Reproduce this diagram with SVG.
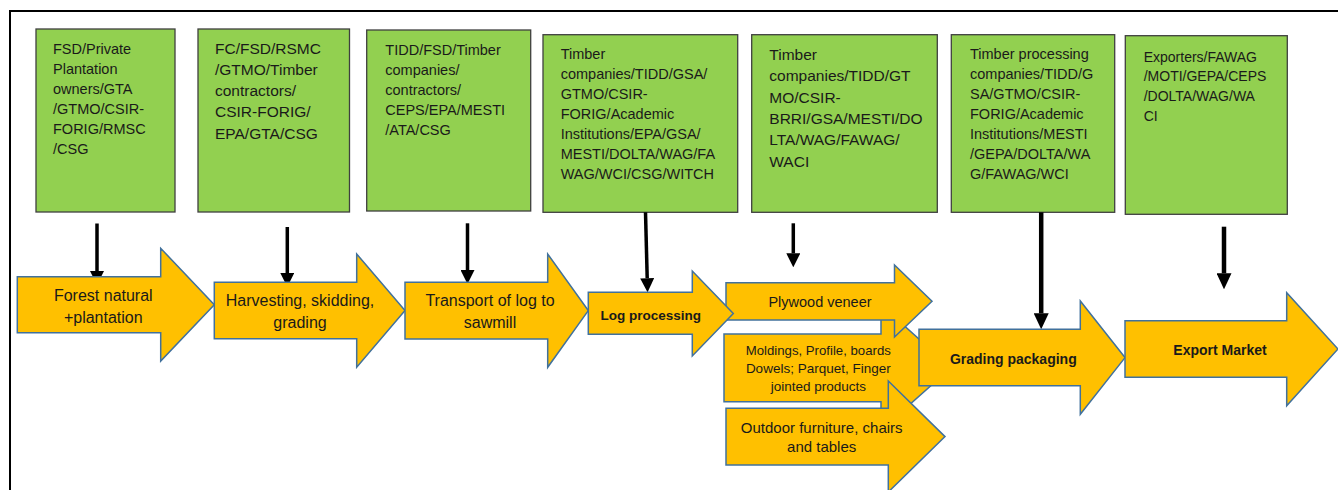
<svg xmlns="http://www.w3.org/2000/svg" width="1338" height="490" viewBox="0 0 1338 490">
<style>
.frame{fill:none;stroke:#000;stroke-width:2}
.box{fill:#92D050;stroke:#3F3F3F;stroke-width:1.3}
.bt{font-family:"Liberation Sans",Arial,sans-serif;font-size:14.5px;fill:#1a1a1a}
.bt2{font-size:15.5px}
.arr{fill:#FFC000;stroke:#41719C;stroke-width:1.5;stroke-linejoin:miter}
.at{font-family:"Liberation Sans",Arial,sans-serif;font-size:16px;fill:#1a1a1a;text-anchor:middle}
.ab{font-weight:bold;font-size:13.5px}
.con{stroke:#000;stroke-width:3.5;fill:none}
.con2{stroke-width:4.5}
</style>
<defs>
<marker id="ah" markerUnits="userSpaceOnUse" markerWidth="14" markerHeight="14" refX="0" refY="7" orient="auto">
<path d="M0,0 L14,7 L0,14 z" fill="#000"/>
</marker>
<marker id="ah2" markerUnits="userSpaceOnUse" markerWidth="16" markerHeight="15" refX="0" refY="7.5" orient="auto">
<path d="M0,0 L16,7.5 L0,15 z" fill="#000"/>
</marker>
</defs>
<rect width="1338" height="490" fill="#fff"/>
<path class="frame" d="M10,490 L10,11 L1338,11"/>

<g id="box1">
<rect class="box" x="36" y="29" width="139" height="183"/>
<text class="bt" x="53" y="53.5">FSD/Private</text>
<text class="bt" x="53" y="73.5">Plantation</text>
<text class="bt" x="53" y="93.5">owners/GTA</text>
<text class="bt" x="53" y="113.5">/GTMO/CSIR-</text>
<text class="bt" x="53" y="133.5">FORIG/RMSC</text>
<text class="bt" x="53" y="153.5">/CSG</text>
</g>
<g id="box2">
<rect class="box" x="198" y="29" width="151.5" height="183"/>
<text class="bt bt2" x="215" y="53.5">FC/FSD/RSMC</text>
<text class="bt bt2" x="215" y="74.8">/GTMO/Timber</text>
<text class="bt bt2" x="215" y="96.1">contractors/</text>
<text class="bt bt2" x="215" y="117.4">CSIR-FORIG/</text>
<text class="bt bt2" x="215" y="138.7">EPA/GTA/CSG</text>
</g>
<g id="box3">
<rect class="box" x="366.7" y="30" width="164" height="181"/>
<text class="bt" x="385.3" y="55.2">TIDD/FSD/Timber</text>
<text class="bt" x="385.3" y="75.2">companies/</text>
<text class="bt" x="385.3" y="95.2">contractors/</text>
<text class="bt" x="385.3" y="115.2">CEPS/EPA/MESTI</text>
<text class="bt" x="385.3" y="135.2">/ATA/CSG</text>
</g>
<g id="box4">
<rect class="box" x="543" y="34.7" width="194.7" height="177.6"/>
<text class="bt" x="560.7" y="59.2">Timber</text>
<text class="bt" x="560.7" y="79.2">companies/TIDD/GSA/</text>
<text class="bt" x="560.7" y="99.2">GTMO/CSIR-</text>
<text class="bt" x="560.7" y="119.2">FORIG/Academic</text>
<text class="bt" x="560.7" y="139.2">Institutions/EPA/GSA/</text>
<text class="bt" x="560.7" y="159.2">MESTI/DOLTA/WAG/FA</text>
<text class="bt" x="560.7" y="179.2">WAG/WCI/CSG/WITCH</text>
</g>
<g id="box5">
<rect class="box" x="751.7" y="34.7" width="185.6" height="177.6"/>
<text class="bt bt2" x="769.3" y="60">Timber</text>
<text class="bt bt2" x="769.3" y="81.3">companies/TIDD/GT</text>
<text class="bt bt2" x="769.3" y="102.6">MO/CSIR-</text>
<text class="bt bt2" x="769.3" y="123.9">BRRI/GSA/MESTI/DO</text>
<text class="bt bt2" x="769.3" y="145.2">LTA/WAG/FAWAG/</text>
<text class="bt bt2" x="769.3" y="166.5">WACI</text>
</g>
<g id="box6">
<rect class="box" x="951.3" y="34.7" width="163.4" height="177.6"/>
<text class="bt" x="970" y="59.2">Timber processing</text>
<text class="bt" x="970" y="79.2">companies/TIDD/G</text>
<text class="bt" x="970" y="99.2">SA/GTMO/CSIR-</text>
<text class="bt" x="970" y="119.2">FORIG/Academic</text>
<text class="bt" x="970" y="139.2">Institutions/MESTI</text>
<text class="bt" x="970" y="159.2">/GEPA/DOLTA/WA</text>
<text class="bt" x="970" y="179.2">G/FAWAG/WCI</text>
</g>
<g id="box7">
<rect class="box" x="1125.3" y="35.7" width="162" height="178.6"/>
<text class="bt" x="1143.7" y="61.7" style="font-size:14px">Exporters/FAWAG</text>
<text class="bt" x="1143.7" y="81.4" style="font-size:14px">/MOTI/GEPA/CEPS</text>
<text class="bt" x="1143.7" y="101.1" style="font-size:14px">/DOLTA/WAG/WA</text>
<text class="bt" x="1143.7" y="120.8" style="font-size:14px">CI</text>
</g>

<g id="connectors">
<line class="con" x1="97" y1="223.5" x2="97" y2="271" marker-end="url(#ah)"/>
<line class="con" x1="287.3" y1="227" x2="287.3" y2="273" marker-end="url(#ah)"/>
<line class="con" x1="467.5" y1="223.3" x2="467.5" y2="270" marker-end="url(#ah)"/>
<line class="con" x1="645.5" y1="212.3" x2="647.2" y2="278.3" marker-end="url(#ah)"/>
<line class="con" x1="793.3" y1="223.3" x2="793.3" y2="253.3" marker-end="url(#ah)"/>
<line class="con con2" x1="1041.2" y1="212.3" x2="1041.2" y2="313.3" marker-end="url(#ah2)"/>
<line class="con con2" x1="1224" y1="226.7" x2="1224" y2="273.3" marker-end="url(#ah2)"/>
</g>

<g id="n-forest">
<polygon class="arr" points="17.3,276.7 160.7,276.7 160.7,248.3 214.3,304.7 160.7,361 160.7,332.7 17.3,332.7"/>
<text class="at" x="103.3" y="300.5">Forest natural</text>
<text class="at" x="103.3" y="322.5">+plantation</text>
</g>
<g id="n-harvesting">
<polygon class="arr" points="214.3,282.3 356.7,282.3 356.7,254 405,310.6 356.7,367.3 356.7,338.7 214.3,338.7"/>
<text class="at" x="300" y="305.5">Harvesting, skidding,</text>
<text class="at" x="300" y="328">grading</text>
</g>
<g id="n-transport">
<polygon class="arr" points="405,282.3 547.7,282.3 547.7,254 588.3,310.6 547.7,367.3 547.7,339 405,339"/>
<text class="at" x="490" y="305.5">Transport of log to</text>
<text class="at" x="490" y="328">sawmill</text>
</g>
<g id="n-moldings">
<polygon class="arr" points="724,334 881,334 881,305 951,367.8 881,430 881,401.7 724,401.7"/>
<text class="at" x="818.3" y="355" style="font-size:13.2px">Moldings, Profile, boards</text>
<text class="at" x="818.3" y="373" style="font-size:13.5px">Dowels; Parquet, Finger</text>
<text class="at" x="818.3" y="391" style="font-size:13.5px">jointed products</text>
</g>
<g id="n-plywood">
<polygon class="arr" points="726,282.7 894.5,282.7 894.5,265 932,301.3 894.5,337 894.5,320 726,320"/>
<text class="at" x="820" y="306.7" style="font-size:14.5px">Plywood veneer</text>
</g>
<g id="n-logprocessing">
<polygon class="arr" points="588.3,292.3 692.3,292.3 692.3,271 733.3,313.4 692.3,356 692.3,334.3 588.3,334.3"/>
<text class="at ab" x="650.7" y="319.5">Log processing</text>
</g>
<g id="n-outdoor">
<polygon class="arr" points="726,408.3 888.3,408.3 888.3,381 945,436.6 888.3,492 888.3,465 726,465"/>
<text class="at" x="821.7" y="432.5" style="font-size:15px">Outdoor furniture, chairs</text>
<text class="at" x="821.7" y="452" style="font-size:15px">and tables</text>
</g>
<g id="n-grading">
<polygon class="arr" points="919,329.3 1080.3,329.3 1080.3,301 1125,357.6 1080.3,414.3 1080.3,385.7 919,385.7"/>
<text class="at ab" x="1013.3" y="364" style="font-size:14px">Grading packaging</text>
</g>
<g id="n-export">
<polygon class="arr" points="1125,320.7 1286.7,320.7 1286.7,292.7 1338,349 1286.7,405.7 1286.7,377.3 1125,377.3"/>
<text class="at ab" x="1220" y="355" style="font-size:14px">Export Market</text>
</g>
</svg>
